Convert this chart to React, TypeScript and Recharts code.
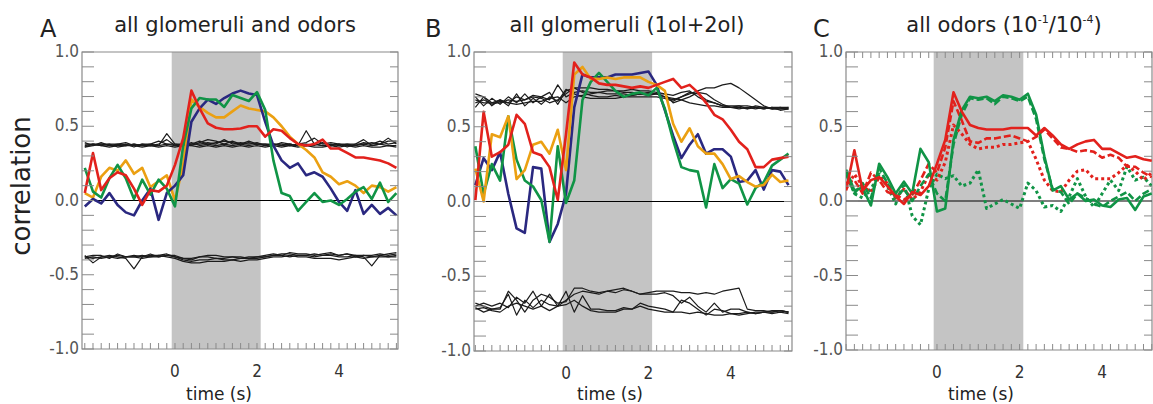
import { LineChart, Line, XAxis, YAxis, ReferenceArea, ReferenceLine } from 'recharts'

// sample times (s), one frame every 0.2 s
const TIME = [-2.2, -2.0, -1.8, -1.6, -1.4, -1.2, -1.0, -0.8, -0.6, -0.4, -0.2, 0.0, 0.2, 0.4, 0.6, 0.8, 1.0, 1.2, 1.4, 1.6, 1.8, 2.0, 2.2, 2.4, 2.6, 2.8, 3.0, 3.2, 3.4, 3.6, 3.8, 4.0, 4.2, 4.4, 4.6, 4.8, 5.0, 5.2, 5.4]
const TIME_C = TIME.slice(0, 38)
const Y_TICKS = [-1.0, -0.9, -0.8, -0.7, -0.6, -0.5, -0.4, -0.3, -0.2, -0.1, 0.0, 0.1, 0.2, 0.3, 0.4, 0.5, 0.6, 0.7, 0.8, 0.9, 1.0]
const X_LABELS = [0, 2, 4]
const STIM = [-0.08, 2.09]

// panel A: all glomeruli and odors
const A_RED = [0.05, 0.32, 0.07, 0.15, 0.19, 0.17, 0.08, -0.03, 0.07, 0.06, 0.10, 0.24, 0.42, 0.74, 0.62, 0.52, 0.49, 0.48, 0.48, 0.485, 0.50, 0.50, 0.43, 0.48, 0.47, 0.42, 0.38, 0.37, 0.38, 0.41, 0.35, 0.35, 0.32, 0.29, 0.29, 0.28, 0.27, 0.25, 0.22]
const A_NAVY = [-0.04, 0.01, -0.02, 0.05, -0.03, -0.08, -0.10, 0.0, 0.08, -0.13, 0.05, 0.10, 0.17, 0.53, 0.62, 0.68, 0.65, 0.69, 0.72, 0.74, 0.72, 0.71, 0.53, 0.37, 0.27, 0.22, 0.25, 0.17, 0.19, 0.16, 0.08, -0.01, -0.07, 0.07, -0.09, -0.03, -0.09, -0.05, -0.10]
const A_GREEN = [0.22, 0.06, 0.02, 0.15, 0.24, 0.15, 0.01, 0.14, 0.04, 0.14, 0.08, -0.04, 0.37, 0.62, 0.69, 0.68, 0.68, 0.63, 0.71, 0.69, 0.67, 0.73, 0.61, 0.27, 0.05, 0.03, -0.07, -0.01, 0.05, -0.01, 0.00, -0.03, 0.01, 0.06, 0.09, 0.01, 0.12, -0.01, 0.05]
const A_ORANGE = [0.05, 0.02, 0.16, 0.22, 0.20, 0.27, 0.18, 0.22, 0.09, 0.13, 0.17, 0.0, 0.24, 0.68, 0.63, 0.59, 0.56, 0.56, 0.60, 0.64, 0.62, 0.61, 0.60, 0.56, 0.50, 0.43, 0.38, 0.34, 0.29, 0.19, 0.16, 0.11, 0.13, 0.10, 0.05, 0.10, 0.09, 0.06, 0.09]
const A_UP1 = [0.37, 0.38, 0.38, 0.37, 0.38, 0.37, 0.38, 0.37, 0.38, 0.37, 0.45, 0.38, 0.37, 0.38, 0.38, 0.39, 0.38, 0.41, 0.38, 0.39, 0.38, 0.39, 0.37, 0.38, 0.37, 0.38, 0.37, 0.47, 0.38, 0.37, 0.38, 0.37, 0.38, 0.37, 0.39, 0.38, 0.40, 0.38, 0.39]
const A_UP2 = [0.36, 0.37, 0.39, 0.37, 0.37, 0.38, 0.36, 0.38, 0.37, 0.38, 0.41, 0.37, 0.38, 0.37, 0.39, 0.41, 0.40, 0.38, 0.40, 0.38, 0.40, 0.38, 0.38, 0.37, 0.39, 0.38, 0.37, 0.38, 0.37, 0.39, 0.37, 0.38, 0.36, 0.38, 0.41, 0.37, 0.38, 0.42, 0.38]
const A_UP3 = [0.38, 0.38, 0.37, 0.38, 0.36, 0.37, 0.38, 0.37, 0.37, 0.37, 0.38, 0.37, 0.37, 0.39, 0.37, 0.38, 0.37, 0.38, 0.37, 0.38, 0.37, 0.38, 0.37, 0.38, 0.37, 0.38, 0.37, 0.37, 0.38, 0.37, 0.37, 0.38, 0.37, 0.37, 0.38, 0.37, 0.38, 0.37, 0.37]
const A_UP4 = [0.36, 0.38, 0.37, 0.36, 0.37, 0.37, 0.37, 0.36, 0.37, 0.36, 0.37, 0.36, 0.37, 0.37, 0.36, 0.37, 0.36, 0.37, 0.36, 0.37, 0.36, 0.37, 0.36, 0.37, 0.36, 0.37, 0.36, 0.37, 0.36, 0.36, 0.37, 0.36, 0.37, 0.36, 0.37, 0.36, 0.36, 0.37, 0.36]
const A_UP5 = [0.39, 0.37, 0.38, 0.38, 0.38, 0.39, 0.37, 0.38, 0.38, 0.40, 0.38, 0.38, 0.38, 0.38, 0.40, 0.38, 0.39, 0.40, 0.39, 0.38, 0.39, 0.38, 0.38, 0.38, 0.38, 0.37, 0.38, 0.39, 0.42, 0.38, 0.39, 0.38, 0.38, 0.38, 0.38, 0.39, 0.38, 0.40, 0.40]
const A_LO1 = [-0.37, -0.42, -0.38, -0.37, -0.38, -0.39, -0.46, -0.38, -0.37, -0.37, -0.36, -0.38, -0.40, -0.41, -0.40, -0.40, -0.39, -0.40, -0.40, -0.39, -0.39, -0.38, -0.38, -0.37, -0.36, -0.36, -0.37, -0.37, -0.36, -0.37, -0.36, -0.37, -0.36, -0.37, -0.38, -0.44, -0.37, -0.36, -0.35]
const A_LO2 = [-0.38, -0.37, -0.37, -0.39, -0.36, -0.38, -0.37, -0.38, -0.36, -0.38, -0.37, -0.37, -0.39, -0.40, -0.38, -0.37, -0.37, -0.38, -0.38, -0.39, -0.38, -0.38, -0.37, -0.36, -0.37, -0.35, -0.36, -0.36, -0.37, -0.36, -0.35, -0.37, -0.36, -0.38, -0.37, -0.37, -0.36, -0.37, -0.36]
const A_LO3 = [-0.39, -0.38, -0.39, -0.38, -0.39, -0.38, -0.38, -0.39, -0.38, -0.37, -0.38, -0.39, -0.41, -0.42, -0.42, -0.41, -0.41, -0.41, -0.40, -0.41, -0.40, -0.40, -0.39, -0.38, -0.38, -0.37, -0.38, -0.38, -0.39, -0.39, -0.39, -0.40, -0.39, -0.38, -0.39, -0.38, -0.38, -0.38, -0.38]
const A_LO4 = [-0.38, -0.39, -0.38, -0.38, -0.37, -0.38, -0.38, -0.37, -0.38, -0.38, -0.37, -0.38, -0.39, -0.39, -0.38, -0.38, -0.39, -0.39, -0.38, -0.38, -0.39, -0.39, -0.38, -0.37, -0.37, -0.38, -0.37, -0.37, -0.38, -0.37, -0.37, -0.38, -0.38, -0.37, -0.37, -0.38, -0.37, -0.38, -0.37]

// panel B: all glomeruli (1ol+2ol)
const B_RED = [0.01, 0.60, 0.30, 0.33, 0.38, 0.58, 0.52, 0.33, 0.31, 0.23, 0.01, 0.45, 0.93, 0.85, 0.83, 0.79, 0.78, 0.78, 0.77, 0.76, 0.77, 0.76, 0.78, 0.80, 0.82, 0.76, 0.78, 0.73, 0.66, 0.58, 0.55, 0.48, 0.40, 0.35, 0.23, 0.23, 0.28, 0.29, 0.30]
const B_NAVY = [0.11, 0.29, 0.21, 0.33, 0.05, -0.18, -0.21, 0.23, 0.22, -0.27, -0.15, 0.05, 0.63, 0.85, 0.83, 0.83, 0.83, 0.85, 0.85, 0.85, 0.86, 0.87, 0.78, 0.61, 0.44, 0.29, 0.38, 0.45, 0.32, 0.35, 0.35, 0.30, 0.13, 0.14, 0.21, 0.08, 0.21, 0.20, 0.11]
const B_GREEN = [0.37, 0.05, 0.25, 0.14, 0.57, 0.28, 0.14, 0.10, 0.01, -0.27, 0.37, -0.01, 0.14, 0.68, 0.80, 0.86, 0.80, 0.74, 0.70, 0.72, 0.73, 0.71, 0.76, 0.62, 0.41, 0.23, 0.21, 0.20, -0.04, 0.25, 0.09, 0.15, 0.12, -0.02, 0.09, 0.13, 0.24, 0.28, 0.32]
const B_ORANGE = [0.22, 0.0, 0.45, 0.43, 0.57, 0.15, 0.21, 0.38, 0.40, 0.32, 0.48, 0.21, 0.85, 0.90, 0.82, 0.82, 0.83, 0.82, 0.83, 0.83, 0.83, 0.80, 0.78, 0.74, 0.52, 0.40, 0.49, 0.37, 0.32, 0.32, 0.25, 0.15, 0.17, 0.13, 0.10, 0.11, 0.18, 0.13, 0.14]
const B_UP1 = [0.72, 0.70, 0.66, 0.68, 0.66, 0.70, 0.68, 0.71, 0.70, 0.68, 0.78, 0.70, 0.73, 0.74, 0.73, 0.73, 0.74, 0.74, 0.73, 0.73, 0.72, 0.73, 0.72, 0.70, 0.68, 0.70, 0.72, 0.74, 0.76, 0.76, 0.78, 0.79, 0.76, 0.72, 0.68, 0.64, 0.62, 0.62, 0.63]
const B_UP2 = [0.70, 0.64, 0.69, 0.65, 0.70, 0.66, 0.72, 0.66, 0.70, 0.73, 0.65, 0.74, 0.76, 0.73, 0.71, 0.70, 0.70, 0.71, 0.70, 0.71, 0.72, 0.71, 0.72, 0.72, 0.66, 0.68, 0.70, 0.73, 0.72, 0.68, 0.65, 0.63, 0.63, 0.62, 0.63, 0.62, 0.63, 0.61, 0.62]
const B_UP3 = [0.63, 0.70, 0.64, 0.68, 0.64, 0.72, 0.64, 0.69, 0.65, 0.70, 0.67, 0.75, 0.72, 0.70, 0.69, 0.69, 0.69, 0.69, 0.70, 0.70, 0.70, 0.70, 0.70, 0.69, 0.67, 0.70, 0.73, 0.72, 0.68, 0.66, 0.64, 0.63, 0.62, 0.63, 0.62, 0.63, 0.62, 0.62, 0.62]
const B_UP4 = [0.68, 0.66, 0.66, 0.66, 0.68, 0.67, 0.68, 0.70, 0.69, 0.66, 0.68, 0.72, 0.76, 0.76, 0.76, 0.75, 0.75, 0.74, 0.74, 0.75, 0.74, 0.74, 0.73, 0.72, 0.71, 0.73, 0.74, 0.70, 0.67, 0.66, 0.64, 0.64, 0.64, 0.62, 0.64, 0.63, 0.62, 0.63, 0.63]
const B_UP5 = [0.66, 0.68, 0.65, 0.67, 0.66, 0.65, 0.66, 0.67, 0.67, 0.69, 0.70, 0.66, 0.70, 0.71, 0.72, 0.73, 0.72, 0.72, 0.72, 0.71, 0.72, 0.72, 0.72, 0.70, 0.69, 0.68, 0.66, 0.65, 0.64, 0.64, 0.63, 0.63, 0.64, 0.64, 0.63, 0.62, 0.63, 0.63, 0.62]
const B_LO1 = [-0.68, -0.70, -0.72, -0.72, -0.60, -0.66, -0.74, -0.66, -0.62, -0.64, -0.68, -0.67, -0.58, -0.58, -0.60, -0.61, -0.60, -0.59, -0.58, -0.60, -0.62, -0.61, -0.60, -0.60, -0.60, -0.61, -0.61, -0.62, -0.61, -0.62, -0.60, -0.59, -0.58, -0.72, -0.73, -0.73, -0.74, -0.73, -0.74]
const B_LO2 = [-0.70, -0.68, -0.70, -0.68, -0.71, -0.64, -0.68, -0.60, -0.70, -0.62, -0.70, -0.66, -0.62, -0.60, -0.61, -0.62, -0.60, -0.61, -0.59, -0.60, -0.62, -0.62, -0.62, -0.61, -0.63, -0.68, -0.64, -0.70, -0.74, -0.68, -0.74, -0.72, -0.72, -0.74, -0.75, -0.74, -0.73, -0.73, -0.74]
const B_LO3 = [-0.71, -0.74, -0.72, -0.71, -0.62, -0.76, -0.66, -0.71, -0.66, -0.69, -0.70, -0.60, -0.74, -0.63, -0.72, -0.72, -0.73, -0.73, -0.71, -0.72, -0.68, -0.70, -0.71, -0.72, -0.74, -0.66, -0.68, -0.72, -0.76, -0.72, -0.73, -0.75, -0.75, -0.74, -0.75, -0.74, -0.74, -0.73, -0.74]
const B_LO4 = [-0.72, -0.71, -0.73, -0.74, -0.70, -0.68, -0.70, -0.72, -0.70, -0.73, -0.70, -0.69, -0.66, -0.70, -0.73, -0.74, -0.74, -0.74, -0.72, -0.72, -0.70, -0.72, -0.73, -0.74, -0.74, -0.74, -0.75, -0.74, -0.75, -0.76, -0.76, -0.75, -0.76, -0.75, -0.74, -0.74, -0.75, -0.74, -0.75]

// panel C: all odors, solid / dashed / dotted per colour
const C_RED = [0.07, 0.34, 0.07, 0.14, 0.16, 0.10, 0.03, -0.02, 0.06, 0.04, 0.10, 0.25, 0.41, 0.73, 0.60, 0.51, 0.49, 0.48, 0.48, 0.48, 0.49, 0.49, 0.49, 0.44, 0.49, 0.44, 0.38, 0.35, 0.38, 0.40, 0.41, 0.35, 0.35, 0.32, 0.29, 0.30, 0.28, 0.27]
const C_RED_DASH = [0.12, 0.14, 0.05, 0.19, 0.14, 0.06, 0.04, 0.01, 0.04, 0.14, 0.25, 0.19, 0.36, 0.67, 0.54, 0.40, 0.39, 0.42, 0.42, 0.43, 0.44, 0.42, 0.40, 0.43, 0.48, 0.42, 0.36, 0.35, 0.33, 0.34, 0.33, 0.29, 0.31, 0.29, 0.23, 0.23, 0.19, 0.16]
const C_RED_DOT = [0.08, 0.18, 0.10, 0.06, 0.16, 0.12, 0.02, 0.08, 0.01, 0.06, 0.18, 0.14, 0.26, 0.51, 0.45, 0.38, 0.35, 0.36, 0.36, 0.38, 0.38, 0.39, 0.40, 0.28, 0.14, 0.07, 0.06, 0.14, 0.20, 0.21, 0.15, 0.15, 0.15, 0.19, 0.24, 0.20, 0.14, 0.19]
const C_GREEN = [0.21, 0.07, 0.09, -0.03, 0.25, 0.16, 0.05, 0.13, 0.05, 0.35, 0.26, -0.07, -0.05, 0.41, 0.61, 0.70, 0.69, 0.70, 0.67, 0.71, 0.70, 0.68, 0.72, 0.58, 0.30, 0.07, 0.10, 0.01, 0.05, 0.00, 0.01, -0.03, -0.04, 0.01, 0.02, -0.06, 0.03, 0.05]
const C_GREEN_DASH = [0.18, 0.05, 0.12, 0.02, 0.22, 0.12, 0.02, 0.08, 0.00, 0.10, 0.18, 0.05, 0.00, 0.38, 0.58, 0.69, 0.68, 0.69, 0.65, 0.70, 0.69, 0.67, 0.70, 0.55, 0.28, 0.08, 0.06, -0.02, 0.05, 0.02, -0.02, -0.04, 0.00, 0.03, 0.06, 0.00, 0.05, 0.08]
const C_GREEN_DOT = [0.20, 0.05, 0.02, 0.08, 0.18, 0.10, -0.02, 0.12, -0.10, -0.16, 0.08, 0.18, 0.15, 0.17, 0.10, 0.12, 0.21, -0.05, -0.02, 0.01, -0.02, -0.05, 0.12, 0.07, -0.04, -0.03, -0.07, 0.03, 0.15, 0.03, -0.04, 0.05, 0.14, 0.07, 0.23, 0.14, 0.16, 0.10]

const RED = '#e2211c'
const NAVY = '#2a2880'
const GREEN = '#109446'
const ORANGE = '#eba012'
const BLACK = '#1c1c1c'
const AXIS = '#8a8a8a'
const SHADE = '#c4c4c4'
const FONT = "'DejaVu Sans', sans-serif"
const TICK_FONT = "'DejaVu Sans Condensed', 'DejaVu Sans', sans-serif"

type Series = { key: string; values: number[]; color: string; width: number; dash?: string }

const black = (key: string, values: number[]): Series => ({ key, values, color: BLACK, width: 1.2 })

const SERIES_A: Series[] = [
  black('u1', A_UP1), black('u2', A_UP2), black('u3', A_UP3), black('u4', A_UP4), black('u5', A_UP5),
  black('l1', A_LO1), black('l2', A_LO2), black('l3', A_LO3), black('l4', A_LO4),
  { key: 'orange', values: A_ORANGE, color: ORANGE, width: 2.6 },
  { key: 'navy', values: A_NAVY, color: NAVY, width: 2.6 },
  { key: 'green', values: A_GREEN, color: GREEN, width: 2.6 },
  { key: 'red', values: A_RED, color: RED, width: 2.6 },
]

const SERIES_B: Series[] = [
  black('u1', B_UP1), black('u2', B_UP2), black('u3', B_UP3), black('u4', B_UP4), black('u5', B_UP5),
  black('l1', B_LO1), black('l2', B_LO2), black('l3', B_LO3), black('l4', B_LO4),
  { key: 'navy', values: B_NAVY, color: NAVY, width: 2.6 },
  { key: 'green', values: B_GREEN, color: GREEN, width: 2.6 },
  { key: 'orange', values: B_ORANGE, color: ORANGE, width: 2.6 },
  { key: 'red', values: B_RED, color: RED, width: 2.6 },
]

const SERIES_C: Series[] = [
  { key: 'gdot', values: C_GREEN_DOT, color: GREEN, width: 3, dash: '3 3' },
  { key: 'rdot', values: C_RED_DOT, color: RED, width: 3, dash: '3 3' },
  { key: 'gdash', values: C_GREEN_DASH, color: GREEN, width: 2.6, dash: '7 3' },
  { key: 'rdash', values: C_RED_DASH, color: RED, width: 2.6, dash: '7 3' },
  { key: 'green', values: C_GREEN, color: GREEN, width: 2.6 },
  { key: 'red', values: C_RED, color: RED, width: 2.6 },
]

function buildRows(time: number[], series: Series[]) {
  return time.map((t, i) => {
    const row: Record<string, number> = { t }
    series.forEach(s => { row[s.key] = s.values[i] })
    return row
  })
}

interface PanelProps {
  left: number
  width: number
  yAxisW: number
  xAxisH: number
  marginRight: number
  domain: [number, number]
  time: number[]
  series: Series[]
  topTicks?: boolean
}

function Panel({ left, width, yAxisW, xAxisH, marginRight, domain, time, series, topTicks }: PanelProps) {
  const height = 404
  const top = 52
  const plotW = width - yAxisW - marginRight
  const plotH = height - top - xAxisH
  const data = buildRows(time, series)

  const yTick = (props: any) => {
    const { x, y, payload } = props
    const v = payload.value as number
    const major = Math.abs(v * 2 - Math.round(v * 2)) < 1e-6
    return (
      <g>
        <line x1={x} x2={x + 12} y1={y} y2={y} stroke={AXIS} strokeWidth={1} />
        <line x1={x + plotW - 8} x2={x + plotW} y1={y} y2={y} stroke={AXIS} strokeWidth={1} />
        {major && (
          <text x={x - 3} y={y + 5} textAnchor="end" fontSize={17} fill="#555" fontFamily={TICK_FONT}>
            {v.toFixed(1)}
          </text>
        )}
      </g>
    )
  }

  const xTick = (props: any) => {
    const { x, y, payload } = props
    const v = payload.value as number
    return (
      <g>
        <line x1={x} x2={x} y1={y} y2={y - 6} stroke={AXIS} strokeWidth={1} />
        {topTicks && <line x1={x} x2={x} y1={y - plotH} y2={y - plotH + 6} stroke={AXIS} strokeWidth={1} />}
        {X_LABELS.includes(v) && (
          <text x={x} y={y + 28} textAnchor="middle" fontSize={17} fill="#333" fontFamily={TICK_FONT}>
            {v}
          </text>
        )}
      </g>
    )
  }

  return (
    <div style={{ position: 'absolute', left, top: 0 }}>
      <LineChart width={width} height={height} data={data} margin={{ top, right: marginRight, bottom: 0, left: 0 }}>
        <ReferenceArea x1={STIM[0]} x2={STIM[1]} y1={-1} y2={1} fill={SHADE} fillOpacity={1} stroke="none" ifOverflow="visible" />
        <XAxis
          dataKey="t"
          type="number"
          domain={domain}
          allowDataOverflow
          ticks={TIME}
          interval={0}
          height={xAxisH}
          tick={xTick}
          tickLine={false}
          axisLine={false}
          tickSize={0}
          tickMargin={0}
        />
        <YAxis
          type="number"
          domain={[-1, 1]}
          allowDataOverflow
          ticks={Y_TICKS}
          interval={0}
          width={yAxisW}
          tick={yTick}
          tickLine={false}
          axisLine={false}
          tickSize={0}
          tickMargin={0}
        />
        <ReferenceLine y={0} stroke="#000" strokeWidth={1.2} />
        {series.map(s => (
          <Line
            key={s.key}
            dataKey={s.key}
            type="linear"
            stroke={s.color}
            strokeWidth={s.width}
            strokeDasharray={s.dash}
            strokeLinejoin="round"
            dot={false}
            activeDot={false}
            isAnimationActive={false}
          />
        ))}
        <ReferenceArea x1={domain[0]} x2={domain[1]} y1={-1} y2={1} fill="none" stroke={AXIS} strokeWidth={1.2} ifOverflow="visible" />
      </LineChart>
    </div>
  )
}

export default function App() {
  return (
    <div style={{ position: 'fixed', left: 0, top: 0, width: 1153, height: 404, background: '#fff', overflow: 'hidden' }}>
      <style>{'html, body { margin: 0; overflow: hidden; }'}</style>
      <Panel left={0} width={400} yAxisW={82} xAxisH={55} marginRight={2} domain={[-2.268, 5.439]} time={TIME} series={SERIES_A} />
      <Panel left={400} width={394} yAxisW={74} xAxisH={53} marginRight={2} domain={[-2.233, 5.485]} time={TIME} series={SERIES_B} />
      <Panel left={794} width={359} yAxisW={52} xAxisH={54} marginRight={1} domain={[-2.203, 5.206]} time={TIME_C} series={SERIES_C} topTicks />
      <svg width={1153} height={404} style={{ position: 'absolute', left: 0, top: 0, pointerEvents: 'none' }} fontFamily={FONT}>
        <text x={40} y={37} fontSize={24} fill="#222">A</text>
        <text x={425} y={37} fontSize={24} fill="#222">B</text>
        <text x={813} y={37} fontSize={24} fill="#222">C</text>
        <text x={235} y={32} fontSize={21} fill="#222" textAnchor="middle">all glomeruli and odors</text>
        <text x={627} y={32} fontSize={21} fill="#222" textAnchor="middle">all glomeruli (1ol+2ol)</text>
        <text x={1004} y={32} fontSize={21} fill="#222" textAnchor="middle">
          all odors (10<tspan fontSize={11} dy={-9}>-1</tspan>
          <tspan dy={9}>/10</tspan>
          <tspan fontSize={11} dy={-9}>-4</tspan>
          <tspan dy={9}>)</tspan>
        </text>
        <text x={0} y={0} fontSize={26} fill="#222" textAnchor="middle" transform="translate(30,186) rotate(-90)">correlation</text>
        <text x={219} y={400} fontSize={17} fill="#222" textAnchor="middle">time (s)</text>
        <text x={610} y={400} fontSize={17} fill="#222" textAnchor="middle">time (s)</text>
        <text x={981} y={400} fontSize={17} fill="#222" textAnchor="middle">time (s)</text>
      </svg>
    </div>
  )
}
